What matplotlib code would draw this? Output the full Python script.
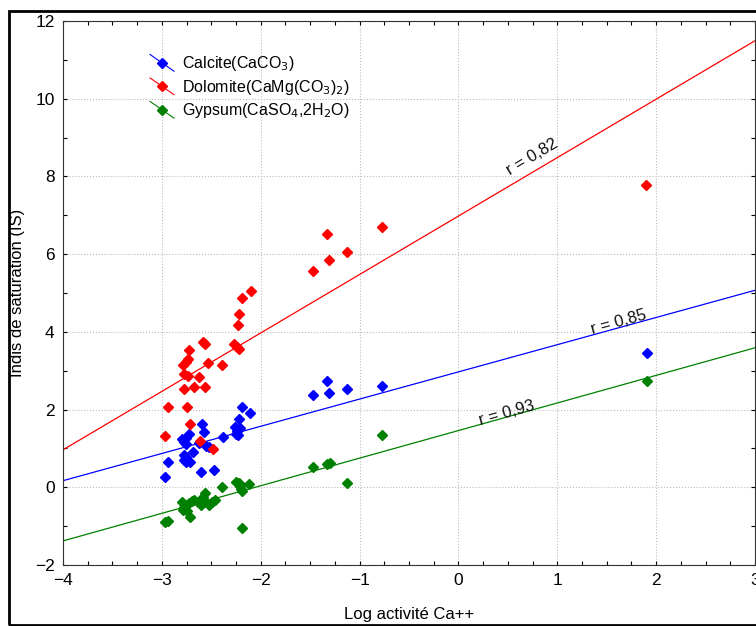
import numpy as np
import matplotlib
matplotlib.use("Agg")
import matplotlib.pyplot as plt
from matplotlib.legend_handler import HandlerLine2D
from matplotlib.lines import Line2D
from matplotlib.patches import Rectangle
from matplotlib.ticker import MultipleLocator

plt.rcParams['font.family'] = ['Liberation Sans', 'DejaVu Sans']

# Calcite (CaCO3)
calcite_x = [-2.97, -2.94, -2.80, -2.78, -2.76, -2.73, -2.76, -2.78, -2.76, -2.78, -2.76, -2.72,
             -2.68, -2.62, -2.59, -2.57, -2.55, -2.52, -2.60, -2.47, -2.38, -2.26, -2.24, -2.22,
             -2.21, -2.23, -2.25, -2.19, -2.11, -1.47, -1.33, -1.31, -1.13, -0.77, 1.91]
calcite_y = [0.26, 0.64, 1.23, 1.17, 1.28, 1.36, 1.11, 0.84, 0.78, 0.70, 0.66, 0.64,
             0.90, 1.15, 1.64, 1.43, 1.06, 1.04, 0.40, 0.45, 1.29, 1.56, 1.44, 1.77,
             1.52, 1.34, 1.38, 2.07, 1.90, 2.37, 2.73, 2.42, 2.52, 2.61, 3.46]

# Dolomite (CaMg(CO3)2)
dolomite_x = [-2.97, -2.94, -2.78, -2.75, -2.79, -2.76, -2.74, -2.73, -2.78, -2.74, -2.72,
              -2.67, -2.62, -2.56, -2.58, -2.56, -2.53, -2.39, -2.61, -2.48, -2.27, -2.24,
              -2.22, -2.23, -2.22, -2.19, -2.10, -1.47, -1.31, -1.33, -1.13, -0.77, 1.90]
dolomite_y = [1.32, 2.06, 2.52, 2.06, 3.14, 3.23, 3.29, 3.53, 2.91, 2.86, 1.64,
              2.57, 2.84, 2.57, 3.73, 3.70, 3.19, 3.14, 1.20, 0.98, 3.70, 3.62,
              3.55, 4.17, 4.47, 4.86, 5.06, 5.56, 5.86, 6.52, 6.05, 6.71, 7.79]

# Gypsum (CaSO4,2H2O)
gypsum_x = [-2.97, -2.94, -2.80, -2.78, -2.79, -2.77, -2.75, -2.73, -2.70, -2.72, -2.67,
            -2.63, -2.60, -2.58, -2.56, -2.55, -2.52, -2.49, -2.46, -2.39, -2.25, -2.22,
            -2.21, -2.20, -2.19, -2.12, -2.19, -1.47, -1.33, -1.30, -1.13, -0.77, 1.91]
gypsum_y = [-0.90, -0.87, -0.37, -0.50, -0.58, -0.45, -0.60, -0.40, -0.35, -0.76, -0.33,
            -0.37, -0.45, -0.25, -0.15, -0.38, -0.45, -0.38, -0.32, 0.02, 0.14, 0.12,
            0.03, -0.05, -0.10, 0.09, -1.04, 0.53, 0.60, 0.63, 0.12, 1.34, 2.73]

# fitted lines: (intercept, slope)
fits = {'calcite': (2.97, 0.70), 'dolomite': (6.98, 1.504), 'gypsum': (1.46, 0.71)}
r_labels = {'calcite': 'r = 0,85', 'dolomite': 'r = 0,82', 'gypsum': 'r = 0,93'}
r_pos = {'calcite': (1.62, 4.25), 'dolomite': (0.75, 8.49), 'gypsum': (0.49, 1.90)}


class DiagHandler(HandlerLine2D):
    def create_artists(self, legend, orig_handle, xdescent, ydescent, width, height, fontsize, trans):
        line = Line2D([-xdescent, width - xdescent], [height - ydescent + 2, -ydescent - 2],
                      color=orig_handle.get_color(), lw=0.8)
        mark = Line2D([width / 2 - xdescent], [height / 2 - ydescent], marker='D', ms=5.5,
                      color=orig_handle.get_color(), ls='none')
        line.set_transform(trans)
        mark.set_transform(trans)
        return [line, mark]


fig = plt.figure(figsize=(7.56, 6.26), dpi=100)
ax = fig.add_axes([63 / 756, 61 / 626, 692 / 756, 544 / 626])
ax.set_xlim(-4, 3)
ax.set_ylim(-2, 12)

series = [('calcite', calcite_x, calcite_y, '#0000ff', 'Calcite(CaCO$_3$)'),
          ('dolomite', dolomite_x, dolomite_y, '#ff0000', 'Dolomite(CaMg(CO$_3$)$_2$)'),
          ('gypsum', gypsum_x, gypsum_y, '#008000', 'Gypsum(CaSO$_4$,2H$_2$O)')]

handles = []
xx = np.array([-4, 3])
for key, x, y, col, lab in series:
    b0, b1 = fits[key]
    ax.plot(xx, b0 + b1 * xx, color=col, lw=0.9, zorder=2)
    ax.plot(x, y, 'D', color=col, ms=5.5, ls='none', zorder=3)
    handles.append(Line2D([], [], color=col, marker='D', label=lab))

fig.canvas.draw()
for key, x, y, col, lab in series:
    b0, b1 = fits[key]
    p1 = ax.transData.transform((-4, b0 - 4 * b1))
    p2 = ax.transData.transform((3, b0 + 3 * b1))
    ang = np.degrees(np.arctan2(p2[1] - p1[1], p2[0] - p1[0]))
    tx, ty = r_pos[key]
    ax.text(tx, ty, r_labels[key], rotation=ang, ha='center', va='center',
            rotation_mode='anchor', fontsize=12, color='#111111', zorder=4)

leg = ax.legend(handles=handles, loc='upper left', bbox_to_anchor=(0.105, 0.965),
                frameon=False, fontsize=11.5, handlelength=1.5, handletextpad=0.5,
                labelspacing=0.28, handler_map={Line2D: DiagHandler()})

ax.xaxis.set_major_locator(MultipleLocator(1))
ax.xaxis.set_minor_locator(MultipleLocator(0.25))
ax.yaxis.set_major_locator(MultipleLocator(2))
ax.yaxis.set_minor_locator(MultipleLocator(1))
ax.tick_params(which='both', direction='in', top=True, right=True, length=3, width=0.8,
               labelsize=12.5, pad=6)
ax.grid(True, which='major', ls=':', color='#bbbbbb', lw=0.8)
ax.set_axisbelow(True)
for s in ax.spines.values():
    s.set_linewidth(0.8)
    s.set_color('#333333')

ax.set_xlabel('Log activité Ca++', fontsize=12)
ax.set_ylabel('Indis de saturation (IS)', fontsize=12)
ax.xaxis.set_label_coords(0.5, -0.078)
ax.yaxis.set_label_coords(-0.055, 0.5)

fig.patches.append(Rectangle((9 / 756, 1 / 626), 1.0, 614 / 626, transform=fig.transFigure,
                             fill=False, edgecolor='black', lw=2, zorder=10))

fig.savefig('out.png', dpi=100)
